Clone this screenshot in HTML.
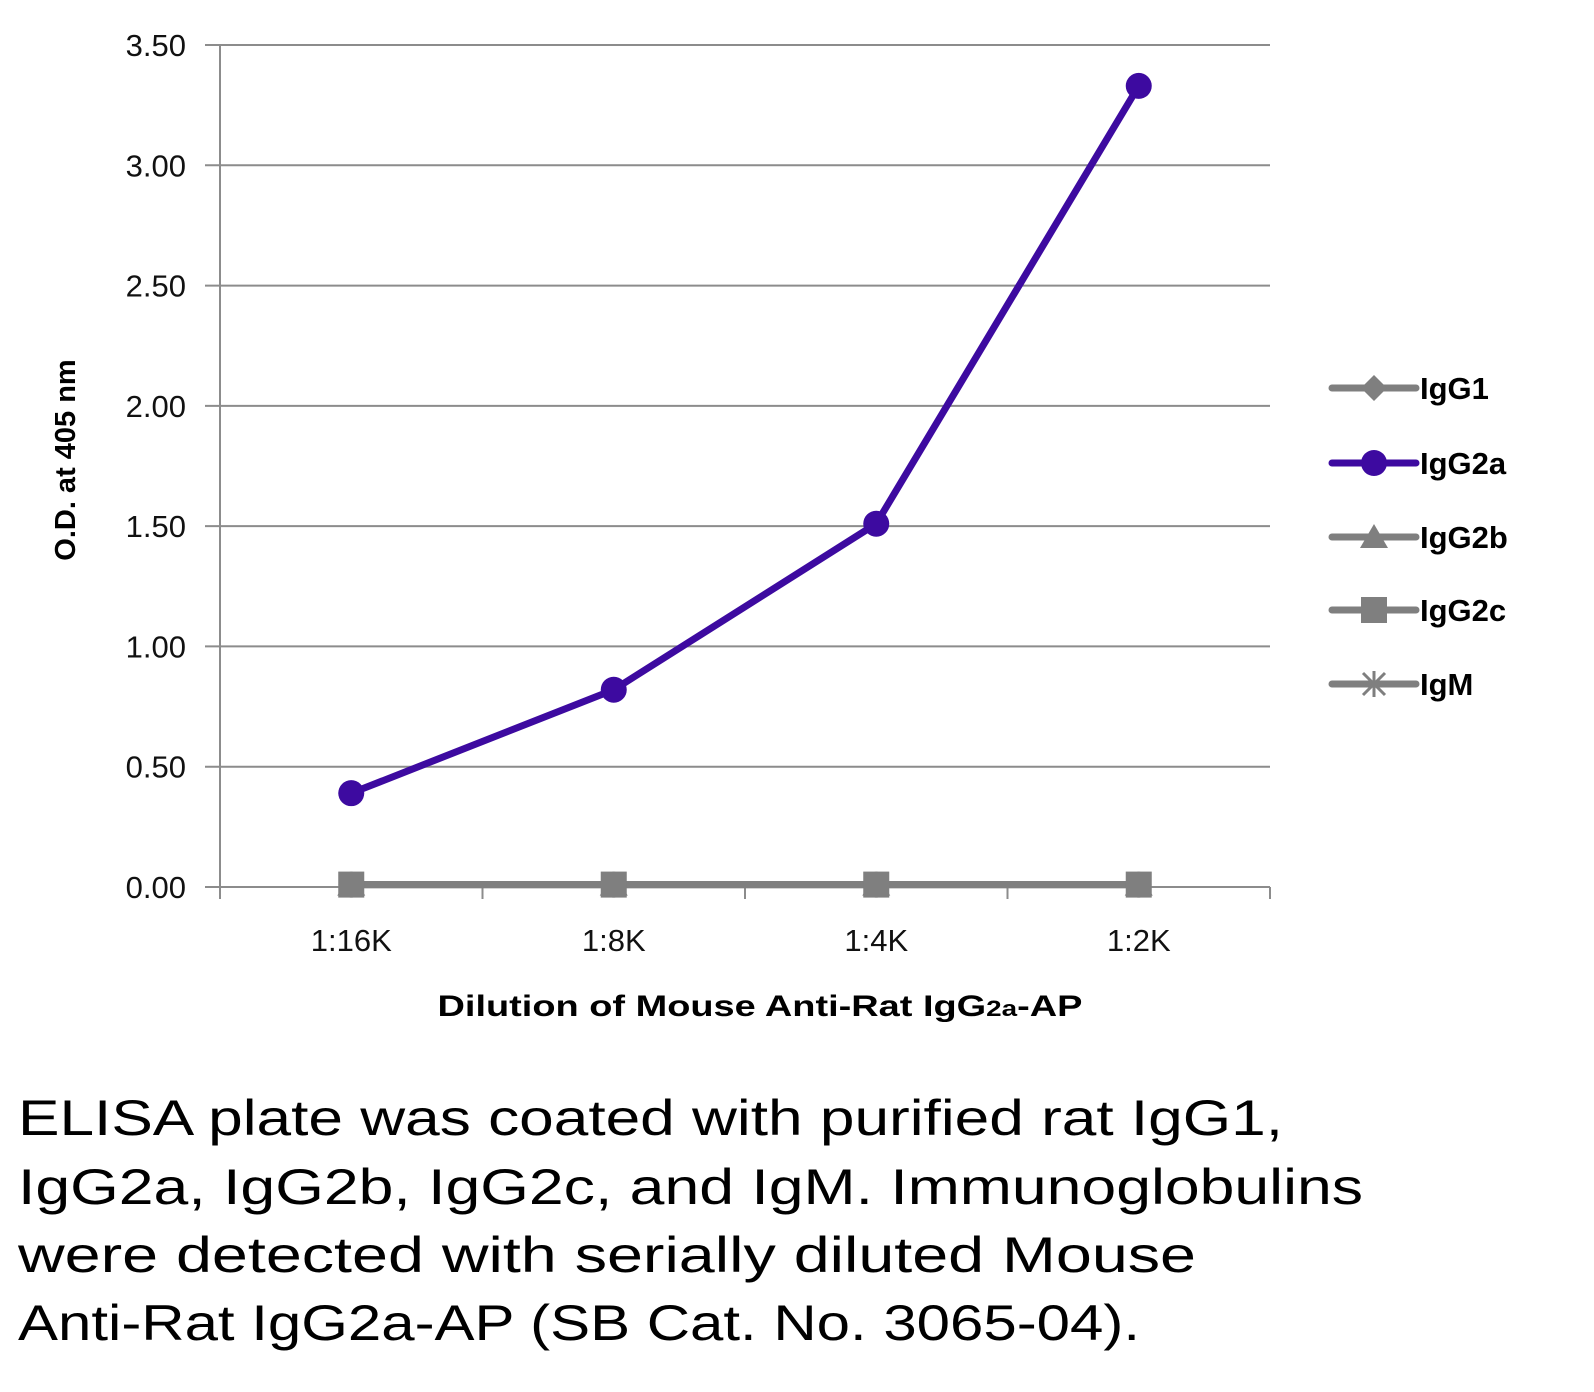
<!DOCTYPE html>
<html><head><meta charset="utf-8"><style>
html,body{margin:0;padding:0;background:#fff;}
svg{display:block;font-family:"Liberation Sans",sans-serif;}
</style></head><body>
<svg id="chart" width="1594" height="1392" viewBox="0 0 1594 1392" xmlns="http://www.w3.org/2000/svg">
<g id="grid"></g>
<g id="axes"></g>
<g id="series"></g>
<text transform="translate(75,460) rotate(-90)" text-anchor="middle" font-size="29" font-weight="bold" fill="#000">O.D. at 405 nm</text>
<text x="760" y="1016" text-anchor="middle" font-size="30" font-weight="bold" fill="#000" textLength="645" lengthAdjust="spacingAndGlyphs">Dilution of Mouse Anti-Rat IgG<tspan font-size="22">2a</tspan>-AP</text>
<g id="legend"></g>
<g font-size="50" fill="#000">
<text x="18" y="1135" textLength="1265" lengthAdjust="spacingAndGlyphs">ELISA plate was coated with purified rat IgG1,</text>
<text x="18" y="1204" textLength="1345" lengthAdjust="spacingAndGlyphs">IgG2a, IgG2b, IgG2c, and IgM.  Immunoglobulins</text>
<text x="18" y="1272" textLength="1178" lengthAdjust="spacingAndGlyphs">were detected with serially diluted Mouse</text>
<text x="18" y="1340" textLength="1122" lengthAdjust="spacingAndGlyphs">Anti-Rat IgG2a-AP (SB Cat. No. 3065-04).</text>
</g>
</svg>
<script>
const categories = ["1:16K","1:8K","1:4K","1:2K"];
const yTicks = [0,0.5,1,1.5,2,2.5,3,3.5];
const yTickLabels = ["0.00","0.50","1.00","1.50","2.00","2.50","3.00","3.50"];
const seriesNames = ["IgG1","IgG2a","IgG2b","IgG2c","IgM"];
const igg1 = [0.01,0.01,0.01,0.01];
const igg2a = [0.39,0.82,1.51,3.33];
const igg2b = [0.01,0.01,0.01,0.01];
const igg2c = [0.01,0.01,0.01,0.01];
const igm = [0.01,0.01,0.01,0.01];

const NS="http://www.w3.org/2000/svg";
const X0=220,X1=1270,Y0=887,Y1=45,YMAX=3.5;
const bw=(X1-X0)/categories.length;
const xs=i=>X0+bw*(i+0.5);
const ys=v=>Y0-(v/YMAX)*(Y0-Y1);
function mk(tag,attrs,parent){const e=document.createElementNS(NS,tag);for(const k in attrs)e.setAttribute(k,attrs[k]);parent.appendChild(e);return e;}
const grid=document.getElementById('grid'),axes=document.getElementById('axes'),ser=document.getElementById('series'),leg=document.getElementById('legend');
yTicks.forEach((t,i)=>{
  const y=ys(t);
  const l=mk('line',{x1:205,x2:X1,y1:y,y2:y,stroke:'#8c8c8c','stroke-width':2},grid);
  
  
  const tx=mk('text',{x:186,y:y+11,'text-anchor':'end','font-size':31,fill:'#111'},axes);
  tx.textContent=yTickLabels[i];
  
  
});
const ya=mk('line',{x1:X0,x2:X0,y1:Y1,y2:Y0+12,stroke:'#8c8c8c','stroke-width':2},axes);


for(let i=0;i<=categories.length;i++){
  const x=X0+bw*i;
  const t=mk('line',{x1:x,x2:x,y1:Y0,y2:Y0+12,stroke:'#8c8c8c','stroke-width':2},axes);
  
  
}
categories.forEach((c,i)=>{
  const tx=mk('text',{x:xs(i),y:951,'text-anchor':'middle','font-size':31,fill:'#111'},axes);
  tx.textContent=c;
  
  
});
function marker(kind,x,y,color,g){
  let e;
  if(kind==='diamond')e=mk('polygon',{points:`${x},${y-13} ${x+13},${y} ${x},${y+13} ${x-13},${y}`,fill:color},g);
  else if(kind==='circle')e=mk('circle',{cx:x,cy:y,r:13,fill:color},g);
  else if(kind==='triangle')e=mk('polygon',{points:`${x},${y-13} ${x+14},${y+11} ${x-14},${y+11}`,fill:color},g);
  else if(kind==='square')e=mk('rect',{x:x-13,y:y-13,width:26,height:26,fill:color},g);
  else {e=mk('path',{d:`M${x-11} ${y-11}L${x+11} ${y+11}M${x-11} ${y+11}L${x+11} ${y-11}M${x} ${y-13}L${x} ${y+13}`,stroke:color,'stroke-width':3},g);}
  return e;
}
const defs=[[igg1,'#7f7f7f','diamond'],[igg2a,'#3d0aa0','circle'],[igg2b,'#7f7f7f','triangle'],[igg2c,'#7f7f7f','square'],[igm,'#7f7f7f','star']];
[0,2,4,3,1].forEach(si=>{
  const [vals,color,kind]=defs[si];
  const g=mk('g',{},ser);
  
  
  const pts=vals.map((v,i)=>xs(i)+','+ys(v)).join(' ');
  const pl=mk('polyline',{points:pts,fill:'none',stroke:color,'stroke-width':7,'stroke-linejoin':'round'},g);
  
  
  vals.forEach((v,i)=>{
    const m=marker(kind,xs(i),ys(v),color,g);
    
    
  });
});
const legY=[388,463,537,610,684];
seriesNames.forEach((n,i)=>{
  const [vals,color,kind]=defs[i];
  const g=mk('g',{},leg);
  
  
  mk('line',{x1:1332,x2:1416,y1:legY[i],y2:legY[i],stroke:color,'stroke-width':7,'stroke-linecap':'round'},g);
  marker(kind,1374,legY[i],color,g);
  const t=mk('text',{x:1420,y:legY[i]+11,'font-size':31,'font-weight':'bold',fill:'#000'},g);
  t.textContent=n;
});
</script>
</body></html>
